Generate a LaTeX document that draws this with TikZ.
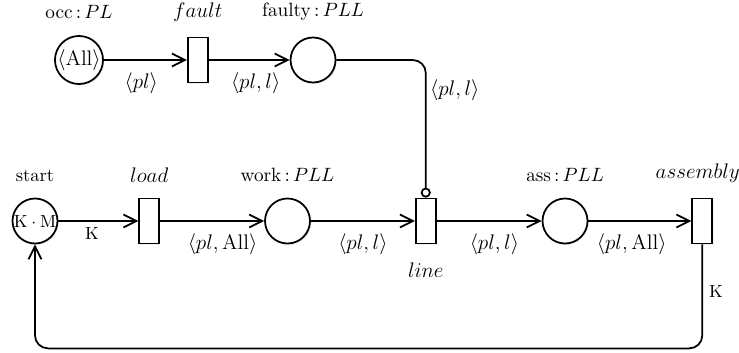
\documentclass[tikz,border=0pt]{standalone}
\usepackage{amsmath}
\usepackage{tikz}
\usetikzlibrary{arrows.meta, positioning, shadows}

\begin{document}
\begin{tikzpicture}[
    place/.style={circle, draw, line width=1pt, fill=white, minimum size=0.9cm, inner sep=0pt, drop shadow={opacity=0.12, shadow xshift=0.7pt, shadow yshift=-0.9pt}},
    trans/.style={rectangle, draw, line width=1pt, fill=white, minimum width=0.4cm, minimum height=0.9cm, inner sep=0pt, drop shadow={opacity=0.12, shadow xshift=0.7pt, shadow yshift=-0.9pt}},
    flow/.style={line width=1pt, -{Straight Barb[length=2.6mm, width=2.6mm]}},
    inhibit/.style={line width=1pt, -{Circle[open, length=2mm]}, rounded corners=0.26cm},
    tag/.style={label distance=0.2cm, font=\fontsize{10.5}{13}\selectfont},
    ttag/.style={label distance=0.18cm, font=\fontsize{11.5}{14}\selectfont},
    inscr/.style={font=\fontsize{11.5}{14}\selectfont, inner sep=2pt}
]
\useasboundingbox (0,0) rectangle (14.78,-7.04);

% Upper row
\node[place, font=\fontsize{11.5}{14}\selectfont, label={[tag]above:$\mathrm{occ}\,{:}\,PL$}] (occ) at (1.58,-1.2) {$\langle\mathrm{All}\rangle$};
\node[trans, right=1.66cm of occ, label={[ttag]above:$fault$}] (fault) {};
\node[place, right=1.62cm of fault, label={[tag]above:$\mathrm{faulty}\,{:}\,PLL$}] (faulty) {};

% Lower row
\node[place, label={[tag]above:start}] (start) at (0.7,-4.42) {$\mathrm{K}\cdot\mathrm{M}$};
\node[trans, right=1.6cm of start, label={[ttag]above:$load$}] (load) {};
\node[place, right=2.08cm of load, label={[tag]above:$\mathrm{work}\,{:}\,PLL$}] (work) {};
\node[trans, right=2.08cm of work, label={[ttag, label distance=0.24cm]below:$line$}] (line) {};
\node[place, right=2.1cm of line, label={[tag]above:$\mathrm{ass}\,{:}\,PLL$}] (ass) {};
\node[trans, right=2.06cm of ass, label={[ttag, xshift=-0.09cm]above:$assembly$}] (assembly) {};

% Arcs
\draw[flow] (occ) -- node[inscr, below=5pt, pos=0.45] {$\langle pl\rangle$} (fault);
\draw[flow] (fault) -- node[inscr, below=5pt, pos=0.58] {$\langle pl,l\rangle$} (faulty);
\draw[inhibit] (faulty) -| node[inscr, right, pos=0.61] {$\langle pl,l\rangle$} (line.north);

\draw[flow] (start) -- node[below, pos=0.42] {K} (load);
\draw[flow] (load) -- node[inscr, below=5pt, pos=0.6] {$\langle pl,\mathrm{All}\rangle$} (work);
\draw[flow] (work) -- node[inscr, below=5pt] {$\langle pl,l\rangle$} (line);
\draw[flow] (line) -- node[inscr, below=5pt, pos=0.55] {$\langle pl,l\rangle$} (ass);
\draw[flow] (ass) -- node[inscr, below=5pt, pos=0.42] {$\langle pl,\mathrm{All}\rangle$} (assembly);

\draw[flow, rounded corners=0.26cm] (assembly.south) -- node[right, pos=0.45] {K} ++(0,-2.08) -| (start.south);

\end{tikzpicture}
\end{document}
